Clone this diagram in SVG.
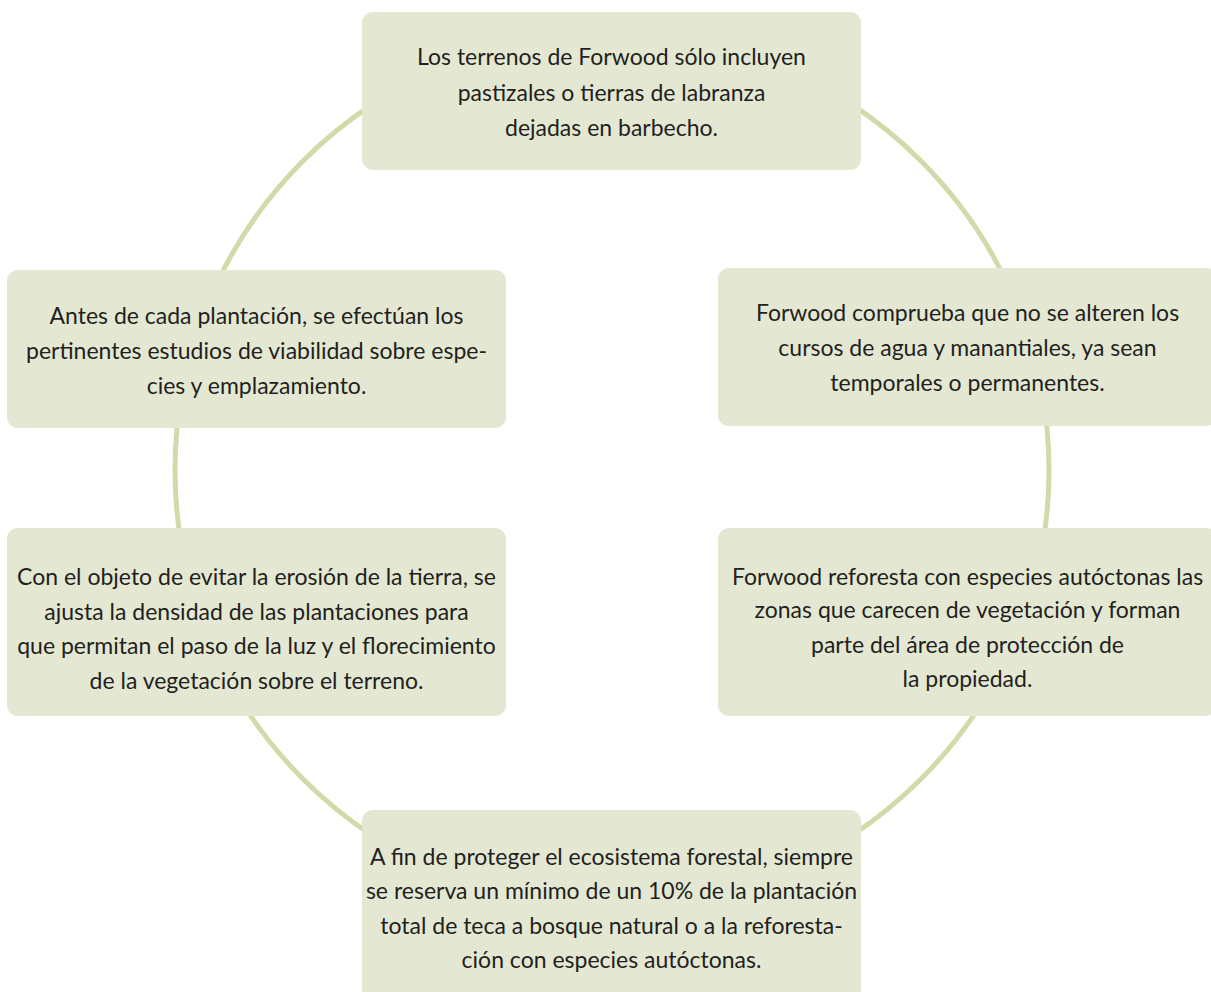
<svg xmlns="http://www.w3.org/2000/svg" width="1211" height="992" viewBox="0 0 1211 992">
<style>
.box{fill:#e4e8d3;}
.t{font-family:Lato,"Liberation Sans",sans-serif;font-size:23px;fill:#231f20;text-anchor:middle;}
</style>
<rect width="1211" height="992" fill="#ffffff"/>
<g id="connectors">
<circle cx="612" cy="470" r="437" fill="none" stroke="#d3daa9" stroke-width="5"/>
</g>
<g id="node-top">
<rect class="box" x="362" y="12" width="499" height="158" rx="11"/>
<text class="t" x="611.5" y="65">Los terrenos de Forwood sólo incluyen</text>
<text class="t" x="611.5" y="101">pastizales o tierras de labranza</text>
<text class="t" x="611.5" y="136">dejadas en barbecho.</text>
</g>
<g id="node-left1">
<rect class="box" x="7" y="270" width="499" height="158" rx="11"/>
<text class="t" x="256.5" y="324">Antes de cada plantación, se efectúan los</text>
<text class="t" x="256.5" y="359">pertinentes estudios de viabilidad sobre espe-</text>
<text class="t" x="256.5" y="394">cies y emplazamiento.</text>
</g>
<g id="node-right1">
<rect class="box" x="718" y="268" width="499" height="158" rx="11"/>
<text class="t" x="967.5" y="321">Forwood comprueba que no se alteren los</text>
<text class="t" x="967.5" y="356">cursos de agua y manantiales, ya sean</text>
<text class="t" x="967.5" y="391">temporales o permanentes.</text>
</g>
<g id="node-left2">
<rect class="box" x="7" y="528" width="499" height="188" rx="11"/>
<text class="t" x="256.5" y="585">Con el objeto de evitar la erosión de la tierra, se</text>
<text class="t" x="256.5" y="620">ajusta la densidad de las plantaciones para</text>
<text class="t" x="256.5" y="654">que permitan el paso de la luz y el florecimiento</text>
<text class="t" x="256.5" y="689">de la vegetación sobre el terreno.</text>
</g>
<g id="node-right2">
<rect class="box" x="718" y="528" width="499" height="188" rx="11"/>
<text class="t" x="967.5" y="585">Forwood reforesta con especies autóctonas las</text>
<text class="t" x="967.5" y="618">zonas que carecen de vegetación y forman</text>
<text class="t" x="967.5" y="653">parte del área de protección de</text>
<text class="t" x="967.5" y="687">la propiedad.</text>
</g>
<g id="node-bottom">
<rect class="box" x="362" y="810" width="499" height="200" rx="11"/>
<text class="t" x="611.5" y="865">A fin de proteger el ecosistema forestal, siempre</text>
<text class="t" x="611.5" y="899">se reserva un mínimo de un 10% de la plantación</text>
<text class="t" x="611.5" y="934">total de teca a bosque natural o a la reforesta-</text>
<text class="t" x="611.5" y="968">ción con especies autóctonas.</text>
</g>
</svg>
